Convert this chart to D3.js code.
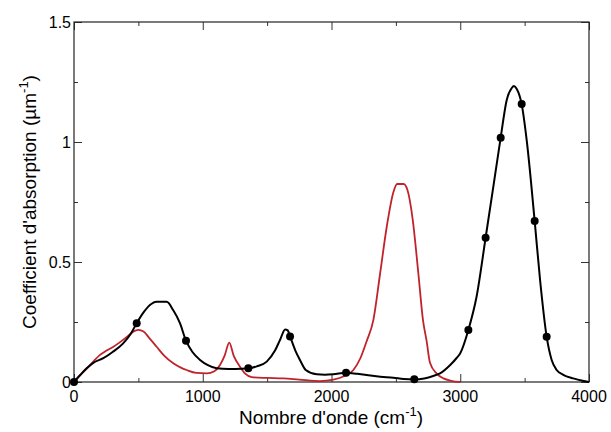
<!DOCTYPE html>
<html>
<head>
<meta charset="utf-8">
<script src="https://cdn.jsdelivr.net/npm/d3@7"></script>
<style>
  body { margin: 0; background: #fff; }
  svg text { font-family: "Liberation Sans", Arial, sans-serif; fill: #000; }
</style>
</head>
<body>
<div id="chart"></div>
<script>
// wavenumber (cm-1) vs absorption (um-1)
var blackX = [0, 50, 98, 150, 228, 300, 380, 440, 487, 540, 600, 640, 720, 770, 823, 870, 920, 979, 1040, 1108,
  1200, 1300, 1354, 1420, 1497, 1560, 1600, 1640, 1660, 1678, 1720, 1755, 1800, 1885, 1950, 2014, 2113, 2200,
  2273, 2380, 2480, 2560, 2643, 2720, 2790, 2843, 2920, 2972, 3000, 3063, 3127, 3197, 3257, 3314, 3361, 3400,
  3417, 3440, 3477, 3516, 3578, 3620, 3671, 3710, 3749, 3800, 3878, 3950, 4000];
var blackY = [0, 0.03, 0.057, 0.08, 0.099, 0.125, 0.16, 0.2, 0.245, 0.29, 0.325, 0.334, 0.334, 0.3, 0.245, 0.172,
  0.125, 0.092, 0.07, 0.057, 0.054, 0.055, 0.057, 0.065, 0.085, 0.13, 0.175, 0.219, 0.215, 0.19, 0.13, 0.092,
  0.05, 0.032, 0.03, 0.032, 0.039, 0.034, 0.029, 0.022, 0.018, 0.013, 0.011, 0.015, 0.025, 0.036, 0.07, 0.1,
  0.12, 0.217, 0.356, 0.601, 0.814, 1.018, 1.175, 1.225, 1.233, 1.22, 1.158, 1.008, 0.671, 0.425, 0.189, 0.092,
  0.05, 0.03, 0.015, 0.005, 0];

var redX = [0, 50, 100, 150, 200, 250, 300, 350, 420, 460, 500, 540, 590, 642, 700, 771, 830, 875, 950, 1031, 1090,
  1134, 1170, 1206, 1240, 1289, 1330, 1380, 1500, 1626, 1750, 1911, 2014, 2100, 2170, 2225, 2273, 2325, 2377,
  2430, 2480, 2510, 2560, 2590, 2630, 2675, 2710, 2739, 2765, 2817, 2870, 2930, 3000];
var redY = [0, 0.03, 0.056, 0.085, 0.112, 0.13, 0.145, 0.163, 0.192, 0.21, 0.217, 0.21, 0.18, 0.147, 0.11, 0.078,
  0.06, 0.05, 0.038, 0.036, 0.045, 0.071, 0.11, 0.164, 0.11, 0.064, 0.035, 0.02, 0.017, 0.015, 0.01, 0.004, 0.01,
  0.025, 0.05, 0.1, 0.17, 0.258, 0.45, 0.65, 0.79, 0.825, 0.825, 0.8, 0.68, 0.45, 0.26, 0.17, 0.08, 0.035, 0.015,
  0.005, 0];

// markers on the black curve
var dotX = [0, 487, 870, 1354, 1678, 2113, 2643, 3063, 3197, 3314, 3477, 3578, 3671];
var dotY = [0, 0.245, 0.172, 0.057, 0.19, 0.039, 0.011, 0.217, 0.601, 1.018, 1.158, 0.671, 0.189];

var xTicks = [0, 1000, 2000, 3000, 4000];
var yTicks = [0, 0.5, 1, 1.5];
var yTickLabels = ["0", "0.5", "1", "1.5"];

var w = 611, h = 432;
var padL = 74, padR = 589, padT = 22, padB = 382;

var x = d3.scaleLinear().domain([0, 4000]).range([padL, padR]);
var y = d3.scaleLinear().domain([0, 1.5]).range([padB, padT]);

var svg = d3.select("#chart").append("svg")
    .attr("width", w)
    .attr("height", h);

// ticks on all four sides, pointing in
var xMinor = d3.range(0, 4001, 500).filter(v => xTicks.indexOf(v) < 0);
var yMinor = [0.25, 0.75, 1.25];

function ticks(vals, size) {
  svg.append("g").attr("transform", "translate(0," + padB + ")")
     .call(d3.axisTop(x).tickValues(vals.x).tickSize(size).tickFormat(""));
  svg.append("g").attr("transform", "translate(0," + padT + ")")
     .call(d3.axisBottom(x).tickValues(vals.x).tickSize(size).tickFormat(""));
  svg.append("g").attr("transform", "translate(" + padL + ",0)")
     .call(d3.axisRight(y).tickValues(vals.y).tickSize(size).tickFormat(""));
  svg.append("g").attr("transform", "translate(" + padR + ",0)")
     .call(d3.axisLeft(y).tickValues(vals.y).tickSize(size).tickFormat(""));
}
ticks({x: xMinor, y: yMinor}, 4);
ticks({x: xTicks, y: yTicks}, 8);

svg.selectAll(".domain").remove();
svg.selectAll(".tick line").attr("stroke", "#333").attr("stroke-width", 1);

svg.append("rect")
   .attr("x", padL).attr("y", padT)
   .attr("width", padR - padL).attr("height", padB - padT)
   .attr("fill", "none").attr("stroke", "#222").attr("stroke-width", 1.2);

// tick labels
svg.selectAll(".xlab").data(xTicks).enter().append("text")
   .attr("class", "xlab")
   .attr("x", d => x(d)).attr("y", padB + 20)
   .attr("text-anchor", "middle").attr("font-size", 16)
   .text(d => d);

svg.selectAll(".ylab").data(yTicks).enter().append("text")
   .attr("class", "ylab")
   .attr("x", padL - 3).attr("y", d => y(d) + 6)
   .attr("text-anchor", "end").attr("font-size", 16)
   .text((d, i) => yTickLabels[i]);

// curves
var line = d3.line()
    .x(d => x(d[0]))
    .y(d => y(d[1]))
    .curve(d3.curveMonotoneX);

svg.append("path")
   .datum(redX.map((v, i) => [v, redY[i]]))
   .attr("d", line)
   .attr("fill", "none")
   .attr("stroke", "#c0232b")
   .attr("stroke-width", 1.8);

svg.append("path")
   .datum(blackX.map((v, i) => [v, blackY[i]]))
   .attr("d", line)
   .attr("fill", "none")
   .attr("stroke", "#000")
   .attr("stroke-width", 2);

svg.selectAll("circle").data(dotX.map((v, i) => [v, dotY[i]])).enter()
   .append("circle")
   .attr("cx", d => x(d[0]))
   .attr("cy", d => y(d[1]))
   .attr("r", 4)
   .attr("fill", "#000");

// axis titles
var xt = svg.append("text")
   .attr("x", 331).attr("y", 424)
   .attr("text-anchor", "middle").attr("font-size", 19);
xt.append("tspan").text("Nombre d'onde (cm");
xt.append("tspan").attr("dy", -8).attr("font-size", 13).text("-1");
xt.append("tspan").attr("dy", 8).text(")");

var yt = svg.append("text")
   .attr("transform", "translate(36," + ((padT + padB) / 2) + ")rotate(-90)")
   .attr("text-anchor", "middle").attr("font-size", 19);
yt.append("tspan").text("Coefficient d'absorption (\u00b5m");
yt.append("tspan").attr("dy", -8).attr("font-size", 13).text("-1");
yt.append("tspan").attr("dy", 8).text(")");
</script>
</body>
</html>
